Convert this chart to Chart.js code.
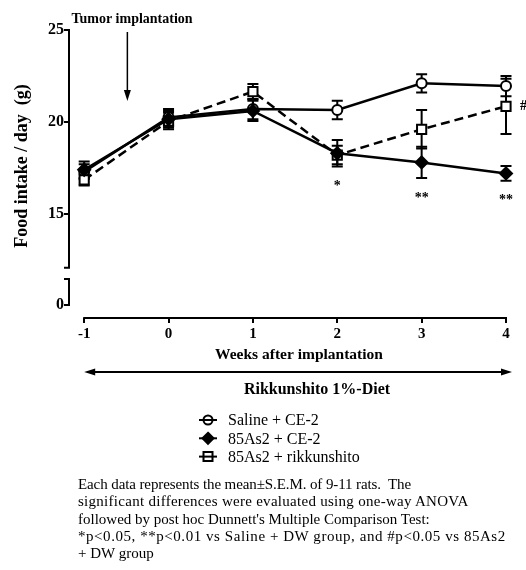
<!DOCTYPE html>
<html><head><meta charset="utf-8">
<script src="https://cdn.jsdelivr.net/npm/chart.js@4.4.1/dist/chart.umd.min.js"></script>
<style>
html,body{margin:0;padding:0;background:#fff;}
#wrap{position:relative;width:526px;height:570px;overflow:hidden;}
canvas{position:absolute;left:0;top:0;}
#note{position:absolute;left:78px;top:476px;font-family:"Liberation Serif","Times New Roman",serif;font-size:15px;line-height:17.3px;white-space:nowrap;color:#000;}
#note span{display:block;}
</style></head><body>
<div id="wrap"><canvas id="c" width="526" height="570"></canvas>
<div id="note"><span style="letter-spacing:-0.1px">Each data represents the mean±S.E.M. of 9-11 rats.&nbsp; The</span><span style="letter-spacing:0.28px">significant differences were evaluated using one-way ANOVA</span><span>followed by post hoc Dunnett's Multiple Comparison Test:</span><span style="letter-spacing:0.55px">*p&lt;0.05, **p&lt;0.01 vs Saline + DW group, and #p&lt;0.05 vs 85As2</span><span>+ DW group</span></div></div>
<script>
const weeks = [-1, 0, 1, 2, 3, 4];
const seriesLabels = ['Saline + CE-2', '85As2 + CE-2', '85As2 + rikkunshito'];
const salineMean = [17.3, 20.25, 20.7, 20.65, 22.1, 21.95];
const salineSem  = [0.4, 0.45, 0.55, 0.5, 0.5, 0.55];
const as2Mean    = [17.4, 20.15, 20.6, 18.3, 17.8, 17.2];
const as2Sem     = [0.45, 0.45, 0.55, 0.72, 0.85, 0.4];
const rikMean    = [16.85, 20.05, 21.65, 18.2, 19.6, 20.85];
const rikSem     = [0.3, 0.45, 0.42, 0.5, 1.05, 1.5];
const sigVsSaline = ['', '', '', '*', '**', '**'];
const sigVsAs2    = ['', '', '', '', '', '#'];
const yTicksUpper = [15, 20, 25];
const yTicksLower = [0];
const xTicks = [-1, 0, 1, 2, 3, 4];
const yTitle = 'Food intake / day  (g)';
const xTitle = 'Weeks after implantation';
const dietLabel = 'Rikkunshito 1%-Diet';
const eventLabel = 'Tumor implantation';
const eventWeek = -0.5;

const SERIF = '"Liberation Serif","Times New Roman",serif';
const pts = (m) => weeks.map((w, i) => ({x: w, y: m[i]}));

const decor = {
  id: 'decor',
  beforeDatasetsDraw(chart) {
    const ctx = chart.ctx, xs = chart.scales.x, ys = chart.scales.y;
    ctx.save();
    ctx.strokeStyle = '#000'; ctx.lineWidth = 2;
    chart.data.datasets.forEach(ds => {
      ds.errors.forEach((e, i) => {
        const m = ds.data[i].y, px = xs.getPixelForValue(ds.data[i].x);
        const t = ys.getPixelForValue(m + e), b = ys.getPixelForValue(m - e);
        ctx.beginPath();
        ctx.moveTo(px, t); ctx.lineTo(px, b);
        ctx.moveTo(px - 5.5, t); ctx.lineTo(px + 5.5, t);
        ctx.moveTo(px - 5.5, b); ctx.lineTo(px + 5.5, b);
        ctx.stroke();
      });
    });
    ctx.restore();
  },
  afterDraw(chart) {
    const ctx = chart.ctx, xs = chart.scales.x, ys = chart.scales.y, yl = chart.scales.yLow;
    const ax = chart.chartArea.left;
    ctx.save();
    ctx.strokeStyle = '#000'; ctx.fillStyle = '#000'; ctx.lineWidth = 2;
    // broken y axis
    const uTop = ys.getPixelForValue(25), uBot = ys.getPixelForValue(12.07);
    const lTop = yl.getPixelForValue(1.41), lBot = yl.getPixelForValue(0);
    ctx.beginPath();
    ctx.moveTo(ax, uTop - 1); ctx.lineTo(ax, uBot); ctx.lineTo(ax - 5, uBot);
    ctx.moveTo(ax - 5, lTop); ctx.lineTo(ax, lTop); ctx.lineTo(ax, lBot + 1);
    ctx.stroke();
    // x axis line
    const xb = chart.chartArea.bottom;
    ctx.beginPath();
    ctx.moveTo(xs.getPixelForValue(-1) - 1, xb); ctx.lineTo(xs.getPixelForValue(4) + 1, xb);
    ctx.stroke();
    // y title
    ctx.save();
    ctx.translate(22, 166); ctx.rotate(-Math.PI / 2);
    ctx.font = 'bold 18px ' + SERIF; ctx.textAlign = 'center'; ctx.textBaseline = 'middle';
    ctx.fillText(yTitle, 0, 0);
    ctx.restore();
    // x title
    ctx.font = 'bold 15.5px ' + SERIF; ctx.textAlign = 'center'; ctx.textBaseline = 'middle';
    ctx.fillText(xTitle, 299, 355);
    // diet double arrow
    const a0 = xs.getPixelForValue(-1), a1 = xs.getPixelForValue(4) + 6, ay = 372;
    ctx.beginPath(); ctx.moveTo(a0 + 6, ay); ctx.lineTo(a1 - 6, ay); ctx.stroke();
    ctx.beginPath(); ctx.moveTo(a0, ay); ctx.lineTo(a0 + 11, ay - 3.5); ctx.lineTo(a0 + 11, ay + 3.5); ctx.closePath(); ctx.fill();
    ctx.beginPath(); ctx.moveTo(a1, ay); ctx.lineTo(a1 - 11, ay - 3.5); ctx.lineTo(a1 - 11, ay + 3.5); ctx.closePath(); ctx.fill();
    ctx.font = 'bold 16px ' + SERIF;
    ctx.fillText(dietLabel, 317, 390);
    // tumor implantation arrow
    const ex = xs.getPixelForValue(eventWeek) + 1;
    ctx.font = 'bold 14px ' + SERIF;
    ctx.fillText(eventLabel, 132, 19);
    ctx.lineWidth = 1.5;
    ctx.beginPath(); ctx.moveTo(ex, 32); ctx.lineTo(ex, 92); ctx.stroke();
    ctx.beginPath(); ctx.moveTo(ex, 101); ctx.lineTo(ex - 3.5, 90); ctx.lineTo(ex + 3.5, 90); ctx.closePath(); ctx.fill();
    // significance marks
    const as2 = chart.data.datasets[1], rik = chart.data.datasets[2];
    ctx.font = 'bold 14px ' + SERIF; ctx.textAlign = 'center'; ctx.textBaseline = 'middle';
    sigVsSaline.forEach((s, i) => {
      if (!s) return;
      const px = xs.getPixelForValue(weeks[i]);
      const py = ys.getPixelForValue(as2.data[i].y - as2.errors[i]) + 20;
      ctx.fillText(s, px, py);
    });
    ctx.textAlign = 'left';
    sigVsAs2.forEach((s, i) => {
      if (!s) return;
      ctx.fillText(s, xs.getPixelForValue(weeks[i]) + 14, ys.getPixelForValue(rik.data[i].y));
    });
    // legend
    chart.data.datasets.forEach((ds, i) => {
      const ly = 420 + i * 18.3, lx = 208;
      ctx.lineWidth = 2; ctx.strokeStyle = '#000';
      ctx.setLineDash([]);
      ctx.fillStyle = ds.pointBackgroundColor;
      ctx.beginPath();
      if (ds.pointStyle === 'circle') { ctx.arc(lx, ly, 4.5, 0, Math.PI * 2); }
      else if (ds.pointStyle === 'rectRot') { ctx.moveTo(lx, ly - 5.5); ctx.lineTo(lx + 5.5, ly); ctx.lineTo(lx, ly + 5.5); ctx.lineTo(lx - 5.5, ly); ctx.closePath(); }
      else { ctx.rect(lx - 4.5, ly - 4.5, 9, 9); }
      ctx.fill(); ctx.stroke();
      ctx.beginPath(); ctx.moveTo(lx - 9, ly); ctx.lineTo(lx + 9, ly); ctx.stroke();
      ctx.fillStyle = '#000';
      ctx.font = '16px ' + SERIF; ctx.textAlign = 'left'; ctx.textBaseline = 'middle';
      ctx.fillText(ds.label, 228, ly + 1);
    });
    ctx.restore();
  }
};

const base = {yAxisID: 'y', xAxisID: 'x', borderColor: '#000', borderWidth: 2.5, pointBorderColor: '#000', pointBorderWidth: 2, clip: false, tension: 0, showLine: true};
new Chart(document.getElementById('c'), {
  type: 'scatter',
  data: {
    datasets: [
      Object.assign({}, base, {label: seriesLabels[0], order: 2, data: pts(salineMean), errors: salineSem, pointStyle: 'circle', pointRadius: 5, pointBackgroundColor: '#fff'}),
      Object.assign({}, base, {label: seriesLabels[1], order: 0, data: pts(as2Mean), errors: as2Sem, pointStyle: 'rectRot', pointRadius: 6, pointBackgroundColor: '#000'}),
      Object.assign({}, base, {label: seriesLabels[2], order: 1, data: pts(rikMean), errors: rikSem, pointStyle: 'rect', pointRadius: 6.5, pointBackgroundColor: '#fff', borderDash: [9, 5]})
    ]
  },
  options: {
    responsive: false, animation: false, devicePixelRatio: 1,
    layout: {padding: {top: 30, right: 20, left: 0, bottom: 212}},
    plugins: {legend: {display: false}, tooltip: {enabled: false}},
    scales: {
      x: {
        type: 'linear', min: -1.18, max: 4,
        afterBuildTicks: s => { s.ticks = xTicks.map(v => ({value: v})); },
        afterFit: s => { s.height = 40; },
        border: {display: false},
        grid: {drawOnChartArea: false, drawTicks: true, tickLength: 5, color: '#000', lineWidth: 2},
        ticks: {color: '#000', padding: 2, font: {family: SERIF, weight: 'bold', size: 15}}
      },
      yLow: {
        type: 'linear', position: 'left', stack: 'ys', stackWeight: 2.66, min: -0.707, max: 1.953,
        afterBuildTicks: s => { s.ticks = yTicksLower.map(v => ({value: v})); },
        afterFit: s => { s.width = 69; },
        border: {display: false},
        grid: {drawOnChartArea: false, drawTicks: true, tickLength: 5, color: '#000', lineWidth: 2},
        ticks: {color: '#000', padding: 0, font: {family: SERIF, weight: 'bold', size: 16}}
      },
      y: {
        type: 'linear', position: 'left', stack: 'ys', stackWeight: 13, min: 12, max: 25,
        afterBuildTicks: s => { s.ticks = yTicksUpper.map(v => ({value: v})); },
        afterFit: s => { s.width = 69; },
        border: {display: false},
        grid: {drawOnChartArea: false, drawTicks: true, tickLength: 5, color: '#000', lineWidth: 2},
        ticks: {color: '#000', padding: 0, font: {family: SERIF, weight: 'bold', size: 16}}
      }
    }
  },
  plugins: [decor]
});
</script>
</body></html>
